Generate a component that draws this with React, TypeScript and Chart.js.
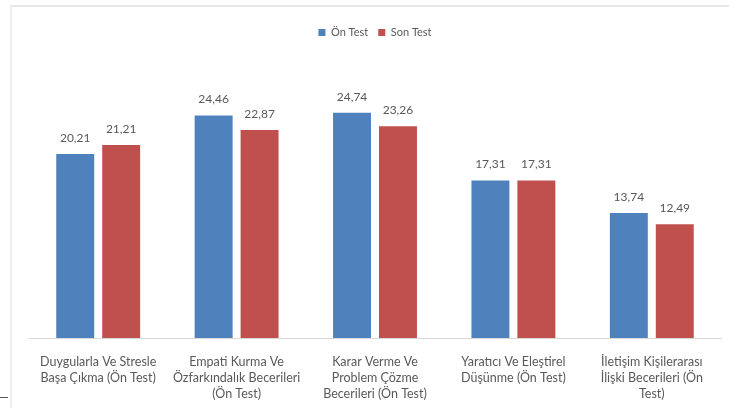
import React, { useEffect, useRef } from "react";
import { Chart, registerables } from "chart.js";

Chart.register(...registerables);

const categories: string[][] = [
  ["Duygularla Ve Stresle", "Başa Çıkma (Ön Test)"],
  ["Empati Kurma Ve", "Özfarkındalık Becerileri", "(Ön Test)"],
  ["Karar Verme Ve", "Problem Çözme", "Becerileri (Ön Test)"],
  ["Yaratıcı Ve Eleştirel", "Düşünme (Ön Test)"],
  ["İletişim Kişilerarası", "İlişki Becerileri (Ön", "Test)"],
];
const onTest: number[] = [20.21, 24.46, 24.74, 17.31, 13.74];
const sonTest: number[] = [21.21, 22.87, 23.26, 17.31, 12.49];
const seriesNames: string[] = ["Ön Test", "Son Test"];

const FONT = "Lato, 'Noto Sans', sans-serif";
const TEXT = "#595959";

const valueLabels = {
  id: "valueLabels",
  afterDatasetsDraw(chart: any) {
    const ctx = chart.ctx;
    ctx.save();
    ctx.font = `12px ${FONT}`;
    ctx.fillStyle = TEXT;
    ctx.textAlign = "center";
    ctx.textBaseline = "middle";
    chart.data.datasets.forEach((ds: any, i: number) => {
      const meta = chart.getDatasetMeta(i);
      meta.data.forEach((bar: any, j: number) => {
        const v = ds.data[j] as number;
        const txt = v.toFixed(2).replace(".", ",");
        ctx.fillText(txt, bar.x, bar.y - 16);
      });
    });
    ctx.restore();
  },
};

export default function App() {
  const ref = useRef<HTMLCanvasElement | null>(null);
  useEffect(() => {
    document.body.style.margin = "0";
    document.body.style.overflow = "hidden";
    if (!ref.current) return;
    const chart = new Chart(ref.current, {
      type: "bar",
      data: {
        labels: categories as any,
        datasets: [
          {
            label: seriesNames[0],
            data: onTest,
            backgroundColor: "#4F81BD",
            categoryPercentage: 0.664,
            barPercentage: 0.826,
          },
          {
            label: seriesNames[1],
            data: sonTest,
            backgroundColor: "#C0504D",
            categoryPercentage: 0.664,
            barPercentage: 0.826,
          },
        ],
      },
      options: {
        animation: false,
        responsive: false,
        maintainAspectRatio: false,
        layout: { padding: { top: 17, left: 29, right: 8, bottom: 0 } },
        plugins: {
          legend: {
            position: "top",
            labels: {
              boxWidth: 7,
              boxHeight: 7,
              padding: 10,
              color: TEXT,
              font: { family: FONT, size: 11 },
            },
          },
          tooltip: { enabled: false },
        },
        scales: {
          x: {
            grid: { display: false },
            border: { display: true, color: "#d9d9d9", width: 1 },
            ticks: {
              color: TEXT,
              font: { family: FONT, size: 12.5, lineHeight: 1.28 },
              padding: 8,
              maxRotation: 0,
              autoSkip: false,
            },
            afterFit: (s: any) => {
              s.height = 70;
            },
          },
          xTop: {
            position: "top",
            type: "category",
            labels: ["", "", "", "", ""],
            grid: { display: false },
            border: { display: false },
            ticks: { display: false },
            afterFit: (s: any) => {
              s.height = 17;
            },
          },
          y: {
            display: false,
            min: 0,
            max: 30,
          },
        },
      },
      plugins: [valueLabels],
    });
    return () => chart.destroy();
  }, []);
  return (
    <div style={{ position: "relative", width: 729, height: 408, background: "#fff", overflow: "hidden" }}>
      <div
        style={{
          position: "absolute",
          left: 10,
          top: 5,
          width: 740,
          height: 420,
          borderTop: "2px solid #e8e8e8",
          borderLeft: "2px solid #efefef",
        }}
      />
      <div style={{ position: "absolute", left: 0, top: 397, width: 8, height: 1, background: "#555" }} />
      <canvas ref={ref} width={729} height={408} style={{ position: "absolute", left: 0, top: 0 }} />
    </div>
  );
}
